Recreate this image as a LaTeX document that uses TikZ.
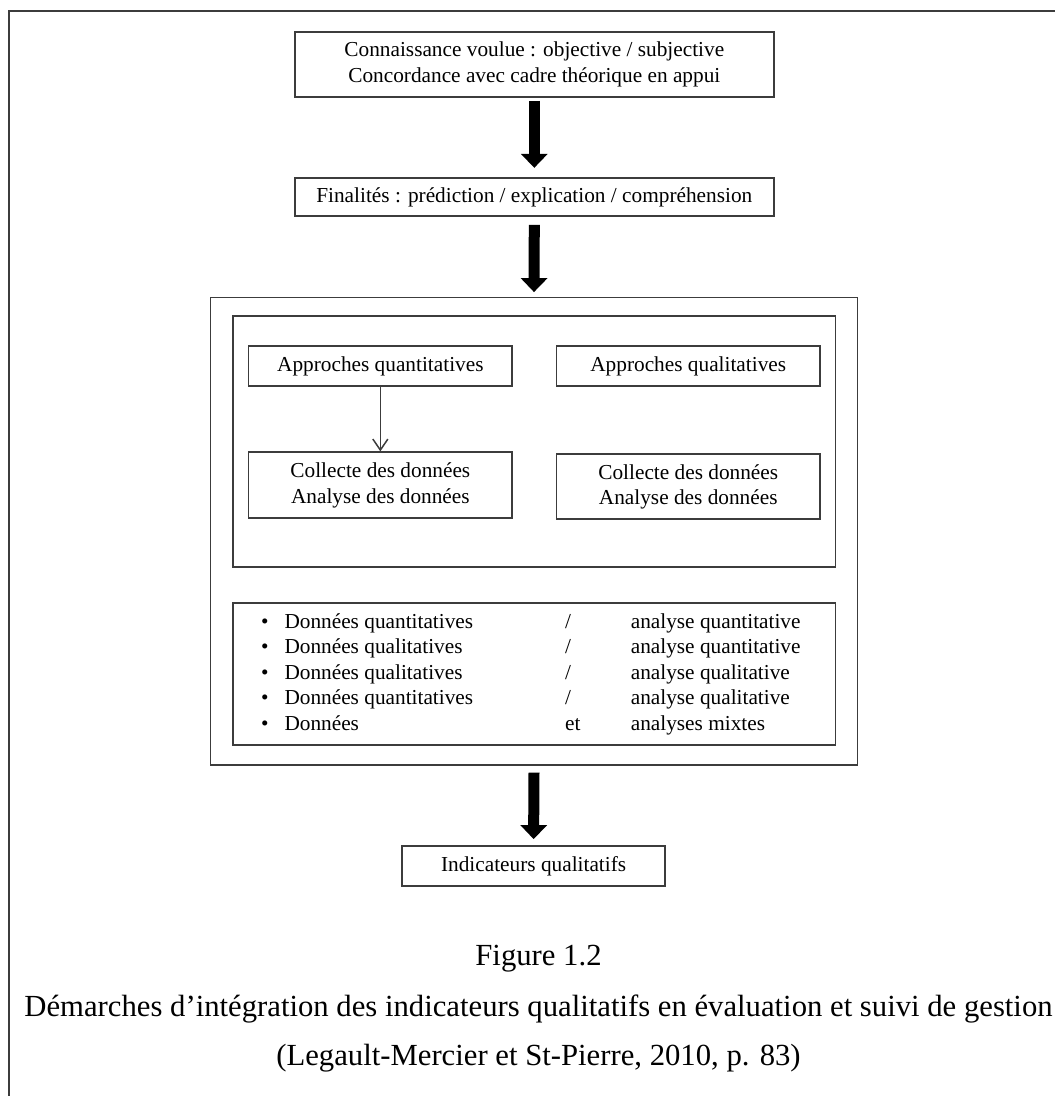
\documentclass[tikz,border=0pt]{standalone}
\usepackage{fontspec}
\setmainfont{Liberation Serif}
\usetikzlibrary{arrows.meta}
\definecolor{rule}{HTML}{3C3C3C}
\begin{document}
\begin{tikzpicture}[x=1pt,y=-1pt,
  boxtext/.style={font=\fontsize{21.3}{25.5}\selectfont},
  framebox/.style={draw=rule, line width=1.8pt, inner sep=0pt, align=center, boxtext},
  bigarrow/.style={line width=11pt, -{Triangle[width=26pt,length=14pt]}, black},
  thinarrow/.style={draw=rule, line width=1.5pt, -{Straight Barb[width=15pt,length=11pt]}},
  listtext/.style={boxtext, inner sep=0pt, anchor=base west},
  captext/.style={font=\fontsize{30.7}{36}\selectfont, inner sep=0pt, anchor=base}
]
\useasboundingbox (0,0) rectangle (1055,1096);
% page frame (top and left rules)
\draw[rule, line width=1.8pt] (1055,11) -- (9,11) -- (9,1096);

% upper chain
\node[framebox, minimum width=479.4pt, minimum height=65pt] (know) at (534.3,64.2)
  {Connaissance voulue : objective / subjective\\Concordance avec cadre théorique en appui};
\node[framebox, minimum width=479.4pt, minimum height=38.3pt] (aims) at (534.3,196.9)
  {Finalités : prédiction / explication / compréhension};

% method container and its two panels
\node[framebox, minimum width=647pt, minimum height=467.5pt] (method) at (534,531.25) {};
\node[framebox, minimum width=602.7pt, minimum height=250.7pt] (approaches) at (534.15,441.35) {};
\node[framebox, minimum width=602.8pt, minimum height=142.3pt] (combos) at (534.1,673.85) {};

\node[framebox, minimum width=263.9pt, minimum height=40pt] (quant) at (380.35,366) {Approches quantitatives};
\node[framebox, minimum width=263.5pt, minimum height=40pt] (qual) at (688.25,366) {Approches qualitatives};
\node[framebox, minimum width=263.9pt, minimum height=65.7pt] (quantdata) at (380.35,485.15)
  {Collecte des données\\Analyse des données};
\node[framebox, minimum width=263.5pt, minimum height=65pt] (qualdata) at (688.25,486.8)
  {Collecte des données\\Analyse des données};

% combinations list
\foreach \i/\yy/\left/\mid/\right in {
  1/628/Données quantitatives/{/}/analyse quantitative,
  2/653.5/Données qualitatives/{/}/analyse quantitative,
  3/679/Données qualitatives/{/}/analyse qualitative,
  4/704.5/Données quantitatives/{/}/analyse qualitative,
  5/730/Données/et/analyses mixtes}{
  \node[boxtext, inner sep=0pt, anchor=base] (bul\i) at (264.8,\yy) {\textbullet};
  \node[listtext] (data\i) at (284.3,\yy) {\left};
  \node[listtext] (sep\i) at (565,\yy) {\mid};
  \node[listtext] (ana\i) at (630.6,\yy) {\right};
}

% result
\node[framebox, minimum width=262.5pt, minimum height=40pt] (ind) at (533.6,866) {Indicateurs qualitatifs};

% connectors
\draw[bigarrow] ([yshift=-3.3pt]know.south) -- ([yshift=9pt]aims.north);
\draw[bigarrow] ([yshift=-8pt]aims.south) -- ([yshift=4.5pt]method.north);
\draw[bigarrow] ([yshift=-6.7pt]method.south) -- ([yshift=6pt]ind.north);
\draw[thinarrow] (quant.south) -- (quantdata.north);

% caption
\node[captext] (fig) at (538.5,965) {Figure 1.2};
\node[captext] (title) at (538.5,1016) {Démarches d’intégration des indicateurs qualitatifs en évaluation et suivi de gestion};
\node[captext] (source) at (538.5,1065) {(Legault-Mercier et St-Pierre, 2010, p. 83)};
\end{tikzpicture}
\end{document}
